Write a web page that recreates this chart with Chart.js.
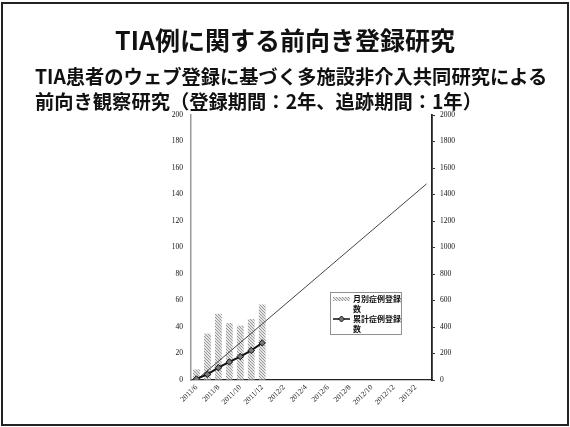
<!DOCTYPE html>
<html>
<head>
<meta charset="utf-8">
<script src="https://cdn.jsdelivr.net/npm/chart.js@4/dist/chart.umd.min.js"></script>
<style>
  html, body { margin:0; padding:0; background:#fff; }
  body { width:570px; height:427px; position:relative; overflow:hidden; font-family:"Noto Sans CJK JP","Noto Sans",sans-serif; }
  #frame { position:absolute; left:1px; top:2px; width:564px; height:420px; border:2px solid #222; }
  #cv { position:absolute; left:0; top:0; }
  .t { position:absolute; font-weight:bold; color:#111; white-space:nowrap; line-height:1; }
  #title { left:0; width:570px; text-align:center; top:27px; font-size:25px; }
  #sub1 { left:35px; top:67px; font-size:19.3px; }
  #sub2 { left:35px; top:92px; font-size:19.3px; }
</style>
</head>
<body>
<div id="frame"></div>
<canvas id="cv" width="570" height="427"></canvas>
<div class="t" id="title">TIA例に関する前向き登録研究</div>
<div class="t" id="sub1">TIA患者のウェブ登録に基づく多施設非介入共同研究による</div>
<div class="t" id="sub2">前向き観察研究（登録期間：2年、追跡期間：1年）</div>
<script>
const categories = ['2011/6','2011/7','2011/8','2011/9','2011/10','2011/11','2011/12',
  '2012/1','2012/2','2012/3','2012/4','2012/5','2012/6','2012/7','2012/8','2012/9',
  '2012/10','2012/11','2012/12','2013/1','2013/2','2013/3'];
const monthlyCases = [8,35,50,43,41,46,57,null,null,null,null,null,null,null,null,null,null,null,null,null,null,null];
const cumulativeCases = [8,43,93,136,177,223,280,null,null,null,null,null,null,null,null,null,null,null,null,null,null,null];
const targetLine = [0,null,null,null,null,null,null,null,null,null,null,null,null,null,null,null,null,null,null,null,null,1480];
const seriesLabels = ['月別症例登録数','累計症例登録数'];

function makePattern(){
  const c = document.createElement('canvas'); c.width = 3; c.height = 3;
  const x = c.getContext('2d');
  x.fillStyle = '#e4e4e4'; x.fillRect(0,0,3,3);
  x.fillStyle = '#9a9a9a';
  x.fillRect(0,0,1,1); x.fillRect(1,1,1,1); x.fillRect(2,2,1,1);
  return x.createPattern(c,'repeat');
}
const pat = makePattern();

const legendBox = {
  id:'legendBox',
  afterDatasetsDraw(chart){
    const ctx = chart.ctx;
    const x0 = 330, y0 = 292, w = 71, h = 42;
    ctx.save();
    ctx.strokeStyle = '#222'; ctx.lineWidth = 1; ctx.setLineDash([1,1]);
    ctx.strokeRect(x0+0.5, y0+0.5, w, h);
    ctx.setLineDash([]);
    ctx.font = 'bold 8px "Noto Sans CJK JP"';
    ctx.fillStyle = '#111'; ctx.textBaseline = 'middle'; ctx.textAlign = 'left';
    const lab = chart.data.datasets;
    ctx.fillStyle = pat; ctx.fillRect(x0+3, y0+5, 17, 4);
    ctx.fillStyle = '#111';
    ctx.fillText(lab[0].label.slice(0,6), x0+23, y0+7);
    ctx.fillText(lab[0].label.slice(6), x0+23, y0+17);
    ctx.strokeStyle = '#111'; ctx.lineWidth = 1.5;
    ctx.beginPath(); ctx.moveTo(x0+3, y0+27); ctx.lineTo(x0+20, y0+27); ctx.stroke();
    ctx.fillStyle = '#777'; ctx.lineWidth = 1;
    ctx.beginPath(); const cx = x0+11.5, cy = y0+27;
    ctx.moveTo(cx, cy-3); ctx.lineTo(cx+3, cy); ctx.lineTo(cx, cy+3); ctx.lineTo(cx-3, cy); ctx.closePath();
    ctx.fill(); ctx.stroke();
    ctx.fillStyle = '#111';
    ctx.fillText(lab[1].label.slice(0,6), x0+23, y0+27);
    ctx.fillText(lab[1].label.slice(6), x0+23, y0+37);
    ctx.restore();
  }
};

const tickFont = { family:'"Liberation Serif", serif', size:7.5 };
const plain = v => String(v);

new Chart(document.getElementById('cv'), {
  data: {
    labels: categories,
    datasets: [
      { type:'bar', label:seriesLabels[0], data:monthlyCases, yAxisID:'y',
        backgroundColor: pat, borderWidth:0, categoryPercentage:1.0, barPercentage:0.62, order:3 },
      { type:'line', label:seriesLabels[1], data:cumulativeCases, yAxisID:'y1',
        borderColor:'#111', borderWidth:2, pointStyle:'rectRot', pointRadius:3.2,
        pointBackgroundColor:'#777', pointBorderColor:'#111', pointBorderWidth:1, tension:0, order:1 },
      { type:'line', label:'target', data:targetLine, yAxisID:'y1', spanGaps:true,
        borderColor:'#444', borderWidth:1, pointRadius:0, tension:0, order:2 }
    ]
  },
  options: {
    responsive:false, animation:false,
    layout:{ padding:{ left:161, right:108, top:115, bottom:2 } },
    plugins:{ legend:{display:false}, tooltip:{enabled:false}, title:{display:false} },
    scales:{
      x:{
        offset:true,
        grid:{ drawOnChartArea:false, drawTicks:false, color:'#222' },
        border:{ display:true, color:'#222', width:1.3, dash:[1.5,1.5] },
        ticks:{ font:tickFont, color:'#111', autoSkip:false, maxRotation:45, minRotation:45, padding:3,
          callback:function(v,i){ return i % 2 === 0 ? this.getLabelForValue(v) : ''; } },
        afterFit(s){ s.height = 45; }
      },
      y:{
        position:'left', min:0, max:200,
        grid:{ drawOnChartArea:false, drawTicks:true, tickLength:3, color:'rgba(0,0,0,0)' },
        border:{ display:true, color:'#999', width:1.5, dash:[1,1] },
        ticks:{ stepSize:20, font:tickFont, color:'#111', padding:5, callback:plain },
        afterFit(s){ s.width = 30; }
      },
      y1:{
        position:'right', min:0, max:2000,
        grid:{ drawOnChartArea:false, drawTicks:true, tickLength:3, color:'#333' },
        border:{ display:true, color:'#222', width:1.8, dash:[1,1] },
        ticks:{ stepSize:200, font:tickFont, color:'#111', padding:5, callback:plain },
        afterFit(s){ s.width = 30; }
      }
    }
  },
  plugins:[legendBox]
});
</script>
</body>
</html>
